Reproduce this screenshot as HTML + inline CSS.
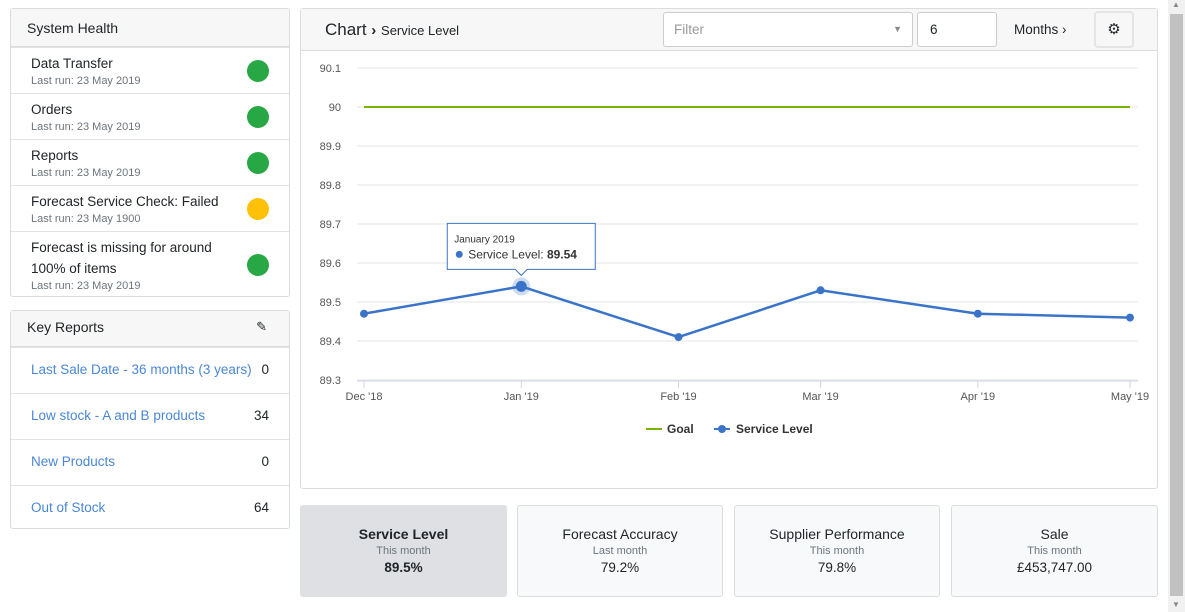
<!DOCTYPE html>
<html><head><meta charset="utf-8">
<style>
*{box-sizing:border-box;margin:0;padding:0}
body{width:1185px;height:612px;background:#fff;font-family:"Liberation Sans",sans-serif;color:#212529;position:relative;overflow:hidden}
.abs{position:absolute}
.panel{position:absolute;border:1px solid #dcdcdc;border-radius:3px;background:#fff}
.phead{position:absolute;left:0;right:0;top:0;background:#f7f7f7;border-bottom:1px solid #dcdcdc;font-size:14px;padding-left:16px}
.row{position:absolute;left:0;right:0;border-top:1px solid #e2e2e2;padding-left:20px}
.t{font-size:13.5px;color:#212529;line-height:17px}
.s{font-size:11px;color:#6c757d;line-height:14px;margin-top:2px}
.dot{position:absolute;right:20px;width:22px;height:22px;border-radius:50%;background:#28a745}
.lnk{font-size:13.5px;color:#4a87d6;position:absolute;left:20px}
.num{position:absolute;right:20px;font-size:13.5px}
.card{position:absolute;top:505px;height:92px;border:1px solid #dcdcdc;border-radius:3px;background:#f8f9fa;text-align:center}
.card .a{margin-top:20px;font-size:14px}
.card .b{font-size:11px;color:#6c757d;margin-top:3px}
.card .c{font-size:13.5px;margin-top:3px}
</style></head><body>

<div class="panel" style="left:10px;top:8px;width:280px;height:289px">
 <div class="phead" style="height:38px;line-height:38px">System Health</div>
 <div class="row" style="top:38px;height:46px;padding-top:7px"><div class="t">Data Transfer</div><div class="s">Last run: 23 May 2019</div><div class="dot" style="top:12px"></div></div>
 <div class="row" style="top:84px;height:46px;padding-top:7px"><div class="t">Orders</div><div class="s">Last run: 23 May 2019</div><div class="dot" style="top:12px"></div></div>
 <div class="row" style="top:130px;height:46px;padding-top:7px"><div class="t">Reports</div><div class="s">Last run: 23 May 2019</div><div class="dot" style="top:12px"></div></div>
 <div class="row" style="top:176px;height:46px;padding-top:7px"><div class="t">Forecast Service Check: Failed</div><div class="s">Last run: 23 May 1900</div><div class="dot" style="top:12px;background:#ffc107"></div></div>
 <div class="row" style="top:222px;height:66px;padding-top:5px"><div class="t" style="line-height:21px">Forecast is missing for around<br>100% of items</div><div class="s" style="margin-top:0">Last run: 23 May 2019</div><div class="dot" style="top:22px"></div></div>
</div>

<div class="panel" style="left:10px;top:310px;width:280px;height:219px">
 <div class="phead" style="height:36px;line-height:32px">Key Reports
  <span style="position:absolute;right:22px;top:0;font-size:13px">&#9998;</span></div>
 <div class="row" style="top:36px;height:46px"><span class="lnk" style="top:14px">Last Sale Date - 36 months (3 years)</span><span class="num" style="top:14px">0</span></div>
 <div class="row" style="top:82px;height:46px"><span class="lnk" style="top:14px">Low stock - A and B products</span><span class="num" style="top:14px">34</span></div>
 <div class="row" style="top:128px;height:46px"><span class="lnk" style="top:14px">New Products</span><span class="num" style="top:14px">0</span></div>
 <div class="row" style="top:174px;height:45px"><span class="lnk" style="top:14px">Out of Stock</span><span class="num" style="top:14px">64</span></div>
</div>

<div class="panel" style="left:300px;top:8px;width:858px;height:481px">
 <div class="phead" style="height:42px;background:#f7f7f7"></div>
</div>
<div class="abs" style="left:325px;top:20px;font-size:17px">Chart <span style="font-weight:bold;font-size:15px">&#8250;</span> <span style="font-size:13px">Service Level</span></div>
<div class="abs" style="left:663px;top:12px;width:250px;height:35px;border:1px solid #ccc;border-radius:3px;background:#fff;font-size:13.5px;color:#999;padding:9px 10px">Filter<span style="position:absolute;right:10px;top:11px;font-size:9px;color:#888">&#9660;</span></div>
<div class="abs" style="left:917px;top:12px;width:80px;height:35px;border:1px solid #ccc;border-radius:3px;background:#fff;font-size:13.5px;padding:9px 12px">6</div>
<div class="abs" style="left:1014px;top:22px;font-size:13.5px">Months &#8250;</div>
<div class="abs" style="left:1094px;top:11px;width:40px;height:37px;border:2px solid #e4e4e4;border-radius:4px;text-align:center;line-height:33px;font-size:15px">&#9881;</div>

<svg class="abs" style="left:0;top:0" width="1185" height="612" id="chart"></svg>

<div class="card" style="left:300px;width:207px;background:#dee0e3;border-color:#dee0e3"><div class="a" style="font-weight:bold">Service Level</div><div class="b">This month</div><div class="c" style="font-weight:bold">89.5%</div></div>
<div class="card" style="left:517px;width:206px"><div class="a">Forecast Accuracy</div><div class="b">Last month</div><div class="c">79.2%</div></div>
<div class="card" style="left:734px;width:206px"><div class="a">Supplier Performance</div><div class="b">This month</div><div class="c">79.8%</div></div>
<div class="card" style="left:951px;width:207px"><div class="a">Sale</div><div class="b">This month</div><div class="c">£453,747.00</div></div>

<div class="abs" style="left:1168px;top:0;width:17px;height:612px;background:#f1f1f1">
 <div style="position:absolute;left:2px;top:14px;width:13px;height:582px;background:#c1c1c1"></div>
 <div style="position:absolute;left:4px;top:0;font-size:8px;color:#888">&#9650;</div>
 <div style="position:absolute;left:4px;top:600px;font-size:8px;color:#888">&#9660;</div>
</div>

<script>
const categories=["Dec '18","Jan '19","Feb '19","Mar '19","Apr '19","May '19"];
const dates=["2018-12-01","2019-01-01","2019-02-01","2019-03-01","2019-04-01","2019-05-01"];
const serviceLevel=[89.47,89.54,89.41,89.53,89.47,89.46];
const goal=[90,90,90,90,90,90];
const yTicks=[90.1,90,89.9,89.8,89.7,89.6,89.5,89.4,89.3];
const NS="http://www.w3.org/2000/svg";
const svg=document.getElementById('chart');
const yMin=89.3,yMax=90.1,py0=380,py1=68;
const t0=Date.parse(dates[0]),t1=Date.parse(dates[dates.length-1]);
function y(v){return py0-(v-yMin)/(yMax-yMin)*(py0-py1);}
function x(d){return 364+(Date.parse(d)-t0)/(t1-t0)*766;}
function mk(tag,attrs){const e=document.createElementNS(NS,tag);for(const k in attrs)e.setAttribute(k,attrs[k]);svg.appendChild(e);return e;}
yTicks.forEach(v=>{
 const g=mk('line',{x1:357,x2:1138,y1:y(v),y2:y(v),stroke:'#e6e6e6','stroke-width':1});
 
 
 const t=mk('text',{x:341,y:y(v)+4,'text-anchor':'end','font-size':11,fill:'#555','font-family':'Liberation Sans'});
 t.textContent=v.toString();
 
 
});
const ax=mk('line',{x1:357,x2:1138,y1:381,y2:381,stroke:'#ccd6eb'});


categories.forEach((c,i)=>{
 const xx=x(dates[i]);
 mk('line',{x1:xx,x2:xx,y1:381,y2:388,stroke:'#ccd6eb'});
 const t=mk('text',{x:xx,y:400,'text-anchor':'middle','font-size':11,fill:'#555','font-family':'Liberation Sans'});
 t.textContent=c;
 
 
});
const gl=mk('polyline',{points:goal.map((v,i)=>x(dates[i])+','+y(v)).join(' '),fill:'none',stroke:'#7cb500','stroke-width':2});


const sl=mk('polyline',{points:serviceLevel.map((v,i)=>x(dates[i])+','+y(v)).join(' '),fill:'none',stroke:'#3a74c8','stroke-width':2.5});


const hi=1;
mk('circle',{cx:x(dates[hi]),cy:y(serviceLevel[hi]),r:9,fill:'#3a74c8','fill-opacity':0.25});
serviceLevel.forEach((v,i)=>{
 const c=mk('circle',{cx:x(dates[i]),cy:y(v),r:i===hi?5.5:4,fill:'#3a74c8'});
 
 
});
const hx=x(dates[hi]),hy=y(serviceLevel[hi]);
const tip=mk('path',{d:`M${hx-74},${hy-63} h148 v46 h-${74-6} l-6,6 l-6,-6 h-${74-6} z`,fill:'#fff','fill-opacity':0.95,stroke:'#3a74c8','stroke-width':1});


const tt=mk('text',{x:hx-67,y:hy-44,'font-size':10,fill:'#333','font-family':'Liberation Sans'});tt.textContent='January 2019';
mk('circle',{cx:hx-62,cy:hy-32,r:3.5,fill:'#3a74c8'});
const tv=mk('text',{x:hx-53,y:hy-28,'font-size':12,fill:'#333','font-family':'Liberation Sans'});
tv.innerHTML='Service Level: <tspan font-weight="bold">'+serviceLevel[hi]+'</tspan>';
const l1=mk('line',{x1:646,x2:662,y1:429,y2:429,stroke:'#7cb500','stroke-width':2});


const lt1=mk('text',{x:667,y:433,'font-size':12,'font-weight':'bold',fill:'#333','font-family':'Liberation Sans'});lt1.textContent='Goal';
const l2=mk('line',{x1:714,x2:730,y1:429,y2:429,stroke:'#3a74c8','stroke-width':2});


mk('circle',{cx:722,cy:429,r:4,fill:'#3a74c8'});
const lt2=mk('text',{x:736,y:433,'font-size':12,'font-weight':'bold',fill:'#333','font-family':'Liberation Sans'});lt2.textContent='Service Level';
</script>
</body></html>
